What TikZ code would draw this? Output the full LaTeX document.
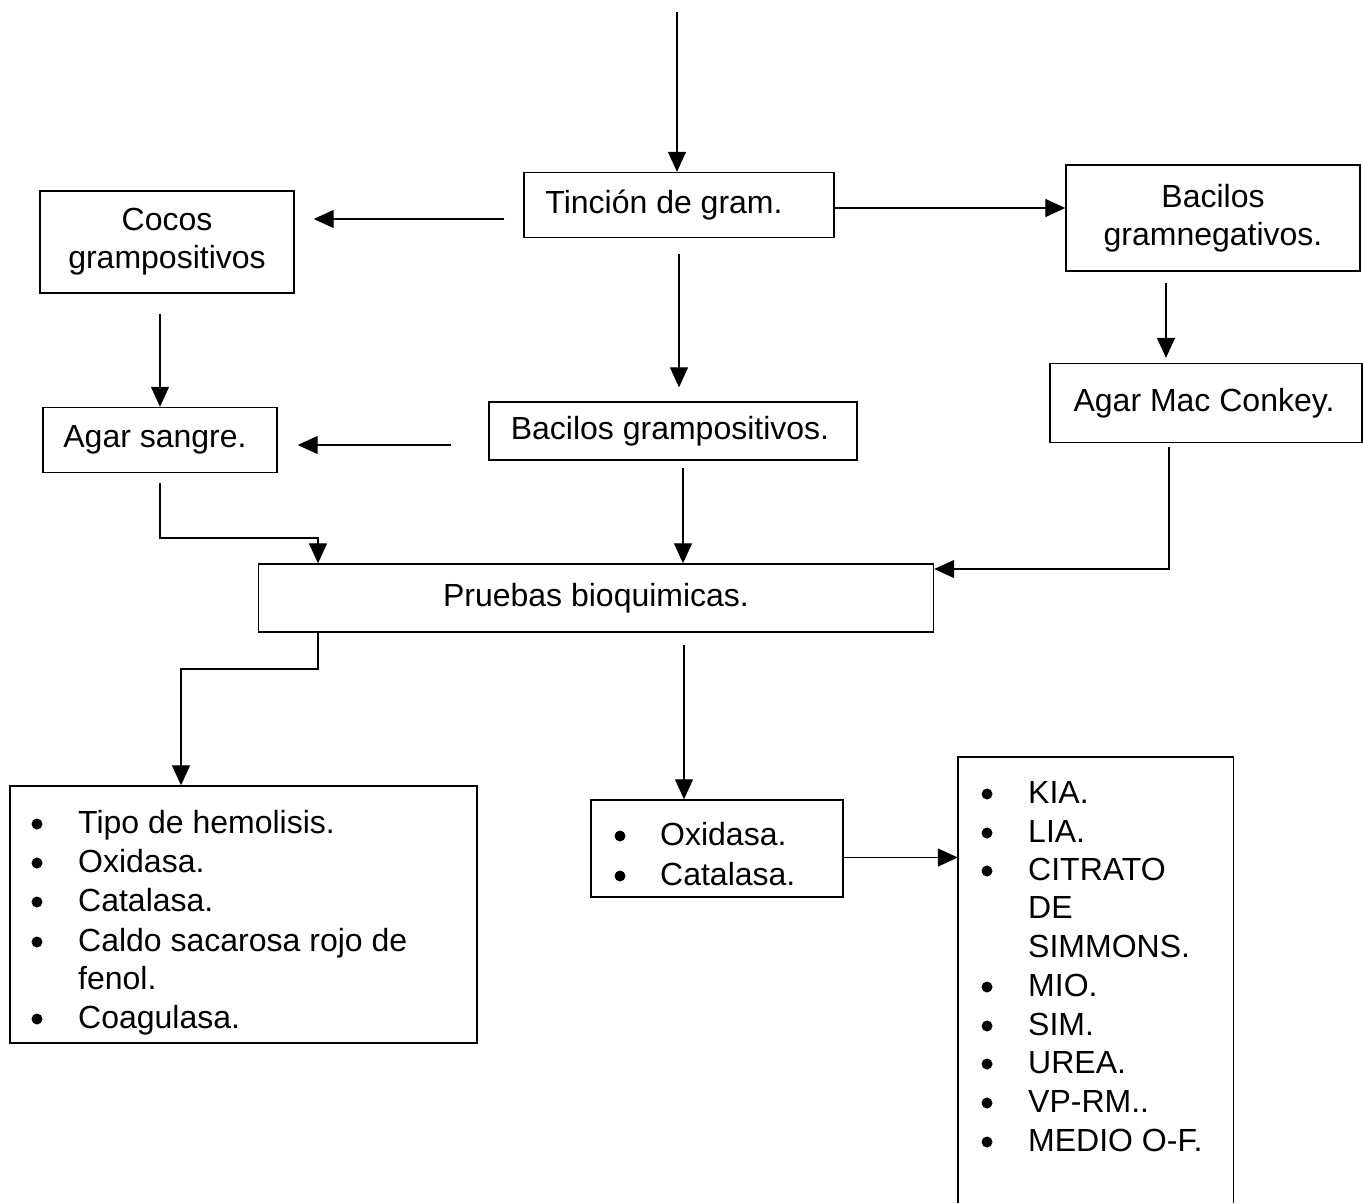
\documentclass[tikz,border=0pt]{standalone}
\usepackage{fontspec}
\setmainfont{Liberation Sans}
\usetikzlibrary{arrows.meta}
\begin{document}
\begin{tikzpicture}[x=1pt,y=-1pt,
  every node/.style={font=\fontsize{32}{38}\selectfont},
  box/.style={draw,line width=1.4pt,inner sep=0pt,align=center},
  lbl/.style={anchor=base west,inner sep=0pt},
  arr/.style={line width=1.3pt,-{Triangle[length=20pt,width=18pt]}},
  bul/.style={fill=black}]
\useasboundingbox (0,0) rectangle (1363,1203);
% boxes
\node[box,minimum width=310pt,minimum height=65pt] (tin) at (679,205) {\raisebox{-3pt}{\hspace*{-30pt}Tinción de gram.}};
\node[box,minimum width=254pt,minimum height=102pt] (cocos) at (167,242) {\raisebox{-4pt}{\begin{tabular}{@{}c@{}}Cocos\\grampositivos\end{tabular}}};
\node[box,minimum width=294pt,minimum height=106pt] (bgn) at (1213,218) {Bacilos\\gramnegativos.};
\node[box,minimum width=234pt,minimum height=65pt] (sangre) at (160,440) {\raisebox{-2pt}{\hspace*{-10pt}Agar sangre.}};
\node[box,minimum width=368pt,minimum height=58pt] (bgp) at (673,431) {\raisebox{-3pt}{\hspace*{-6pt}Bacilos grampositivos.}};
\node[box,minimum width=312pt,minimum height=79pt] (mac) at (1206,403) {\raisebox{3pt}{\hspace*{-4pt}Agar Mac Conkey.}};
\node[box,minimum width=675pt,minimum height=68pt] (prue) at (596,598) {\raisebox{-2pt}{Pruebas bioquimicas.}};
\node[box,minimum width=467pt,minimum height=257pt] (L) at (243.5,914.5) {};
\node[box,minimum width=252pt,minimum height=97pt] (M) at (717,848.5) {};
\node[inner sep=0pt,minimum width=275pt,minimum height=446pt] (R) at (1095.5,980) {};
\draw[line width=1.4pt] (R.south west) -- (R.north west) -- (R.north east) -- (R.south east);
% left list
\node[lbl] (l1) at (78,833) {Tipo de hemolisis.};
\node[lbl] (l2) at (78,872) {Oxidasa.};
\node[lbl] (l3) at (78,911) {Catalasa.};
\node[lbl] (l4) at (78,951) {Caldo sacarosa rojo de};
\node[lbl] (l5) at (78,989) {fenol.};
\node[lbl] (l6) at (78,1028) {Coagulasa.};
\foreach \y in {833,872,911,951,1028} \fill[bul] (37,\y-9) circle (5.5pt);
% middle list
\node[lbl] (m1) at (660,845) {Oxidasa.};
\node[lbl] (m2) at (660,885) {Catalasa.};
\foreach \y in {845,885} \fill[bul] (620,\y-9) circle (5.5pt);
% right list
\node[lbl] (r1) at (1028,803) {KIA.};
\node[lbl] (r2) at (1028,842) {LIA.};
\node[lbl] (r3) at (1028,880) {CITRATO};
\node[lbl] (r4) at (1028,918) {DE};
\node[lbl] (r5) at (1028,957) {SIMMONS.};
\node[lbl] (r6) at (1028,996) {MIO.};
\node[lbl] (r7) at (1028,1035) {SIM.};
\node[lbl] (r8) at (1028,1073) {UREA.};
\node[lbl] (r9) at (1028,1112) {VP-RM..};
\node[lbl] (r10) at (1028,1151) {MEDIO O-F.};
\foreach \y in {803,842,880,996,1035,1073,1112,1151} \fill[bul] (987,\y-9) circle (5.5pt);
% connectors
\coordinate (start) at (677,12);
\draw[arr] (start) -- (start |- tin.north);
\draw[arr,shorten <=19pt,shorten >=19pt] ([yshift=-14pt]tin.west) -- ([yshift=-14pt]tin.west -| cocos.east);
\draw[arr] ([yshift=-3pt]tin.east) -- ([yshift=-3pt]tin.east -| bgn.west);
\draw[arr,shorten <=16pt,shorten >=14pt] (tin.south) -- (tin.south |- bgp.north);
\draw[arr,shorten <=20pt] (sangre.north |- cocos.south) -- (sangre.north);
\draw[arr,shorten <=37pt,shorten >=20pt] ([yshift=-14pt]bgp.west) -- ([yshift=-14pt]bgp.west -| sangre.east);
\draw[arr,shorten <=11pt,shorten >=5pt] ([xshift=-47pt]bgn.south) -- ([xshift=-47pt]bgn.south |- mac.north);
\coordinate (e1) at (318,538);
\draw[arr,shorten <=10pt] (sangre.south) |- (e1) -- (e1 |- prue.north);
\draw[arr,shorten <=7pt] ([xshift=10pt]bgp.south) -- ([xshift=10pt]bgp.south |- prue.north);
\coordinate (e2) at (1169,569);
\draw[arr,shorten <=4pt] (mac.south -| e2) -- (e2) -- (e2 -| prue.east);
\coordinate (e3) at (181,669);
\draw[arr] (prue.south -| e1) |- (e3) -- (e3 |- L.north);
\draw[arr,shorten <=12pt] ([xshift=88pt]prue.south) -- ([xshift=88pt]prue.south |- M.north);
\draw[arr] ([yshift=-9pt]M.east) -- ([yshift=-9pt]M.east -| R.west);
\end{tikzpicture}
\end{document}
